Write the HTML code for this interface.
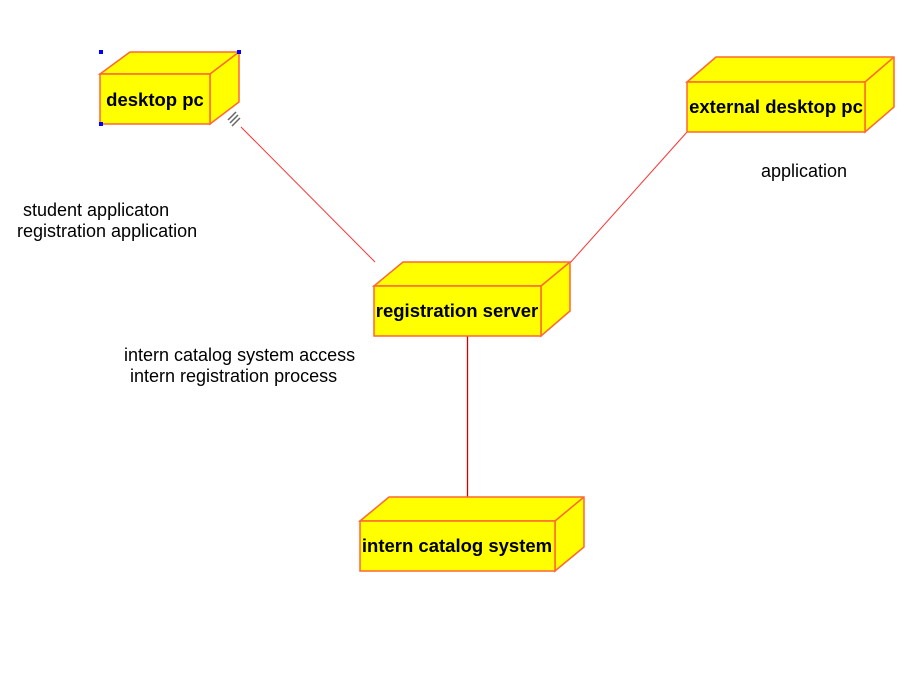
<!DOCTYPE html>
<html><head><meta charset="utf-8"><style>
html,body{margin:0;padding:0;background:#fff;}
svg{display:block;}
text{font-family:"Liberation Sans",Arial,sans-serif;}
.n{font-weight:bold;font-size:18.5px;fill:#000;}
.l{font-size:18px;fill:#000;}
.f{fill:#ffff00;stroke:#ff6633;stroke-width:1.5;}
</style></head><body>
<svg width="898" height="682" viewBox="0 0 898 682" xmlns="http://www.w3.org/2000/svg">
<line x1="241" y1="127" x2="375" y2="262" stroke="#ff3333" stroke-width="1"/>
<line x1="687" y1="132" x2="570" y2="263" stroke="#ff3333" stroke-width="1"/>
<line x1="467.5" y1="336" x2="467.5" y2="497" stroke="#cc0000" stroke-width="1.3"/>
<g stroke="#666" stroke-width="1.5">
<line x1="228" y1="120" x2="236" y2="112"/>
<line x1="230" y1="123" x2="238" y2="115"/>
<line x1="232" y1="126" x2="240" y2="118"/>
</g>

<polygon class="f" points="100,74 130,52 239,52 239,102 210,124 210,74"/>
<line x1="210" y1="74" x2="239" y2="52" stroke="#ff6633" stroke-width="1.5"/>
<rect class="f" x="100" y="74" width="110" height="50"/>
<text class="n" x="155" y="106" text-anchor="middle">desktop pc</text>
<rect x="99" y="50" width="4" height="4" fill="#0000ff"/>
<rect x="237" y="50" width="4" height="4" fill="#0000ff"/>
<rect x="99" y="122" width="4" height="4" fill="#0000ff"/>

<polygon class="f" points="687,82 716,57 894,57 894,107 865,132 865,82"/>
<line x1="865" y1="82" x2="894" y2="57" stroke="#ff6633" stroke-width="1.5"/>
<rect class="f" x="687" y="82" width="178" height="50"/>
<text class="n" x="776" y="113" text-anchor="middle">external desktop pc</text>

<polygon class="f" points="374,286 403,262 570,262 570,311 541,336 541,286"/>
<line x1="541" y1="286" x2="570" y2="262" stroke="#ff6633" stroke-width="1.5"/>
<rect class="f" x="374" y="286" width="167" height="50"/>
<text class="n" x="457" y="317" text-anchor="middle">registration server</text>

<polygon class="f" points="360,521 389,497 584,497 584,547 555,571 555,521"/>
<line x1="555" y1="521" x2="584" y2="497" stroke="#ff6633" stroke-width="1.5"/>
<rect class="f" x="360" y="521" width="195" height="50"/>
<text class="n" x="457" y="552" text-anchor="middle">intern catalog system</text>

<text class="l" x="23" y="216">student applicaton</text>
<text class="l" x="17" y="237">registration application</text>
<text class="l" x="761" y="177">application</text>
<text class="l" x="124" y="361">intern catalog system access</text>
<text class="l" x="130" y="382">intern registration process</text>
</svg>
</body></html>
